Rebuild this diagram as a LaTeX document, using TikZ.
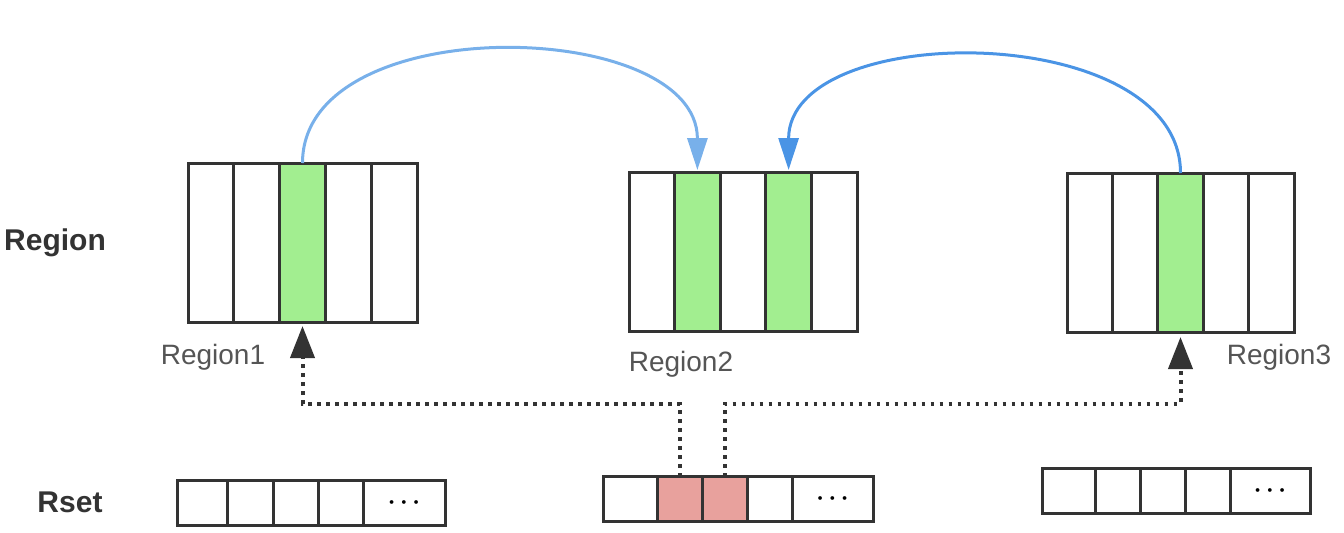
\documentclass[tikz,border=0pt]{standalone}
\usepackage{fontspec}
\setmainfont{Liberation Sans}
\usetikzlibrary{arrows.meta}

\definecolor{cellgreen}{HTML}{A2EE90}
\definecolor{cellpink}{HTML}{E8A19D}
\definecolor{arclight}{HTML}{78B0EA}
\definecolor{arcdark}{HTML}{4A94E5}
\definecolor{edge}{HTML}{333333}
\definecolor{labelgray}{HTML}{555555}

\tikzset{
  slot/.style={draw=edge,line width=1.5pt,inner sep=0pt,outer sep=0pt,
    minimum height=79.5pt},
  entry/.style={draw=edge,line width=1.5pt,inner sep=0pt,outer sep=0pt,
    minimum height=22.5pt,font=\boldmath\large},
  hop/.style={line width=1.5pt,shorten >=1pt,
    -{Triangle[length=16pt,width=10pt]}},
  ref/.style={draw=edge,line width=2pt,dash pattern=on 1.6pt off 2.9pt,
    -{Triangle[length=16pt,width=12pt]}},
  tag/.style={text=labelgray,font=\fontsize{14}{16}\selectfont},
  side/.style={text=edge,font=\fontsize{15}{18}\selectfont\bfseries}
}

\begin{document}
\begin{tikzpicture}[x=0.5pt,y=-0.5pt]
  \useasboundingbox (0,0) rectangle (1344,532);

  % regions
  \foreach \i/\c in {1/white,2/white,3/cellgreen,4/white,5/white}
    \node[slot,fill=\c,minimum width=22.9pt] (ra\i) at ({188+45.8*\i-22.9},242.5) {};
  \foreach \i/\c in {1/white,2/cellgreen,3/white,4/cellgreen,5/white}
    \node[slot,fill=\c,minimum width=22.8pt] (rb\i) at ({629+45.6*\i-22.8},251.5) {};
  \foreach \i/\c in {1/white,2/white,3/cellgreen,4/white,5/white}
    \node[slot,fill=\c,minimum width=22.7pt] (rc\i) at ({1067+45.4*\i-22.7},252.5) {};

  % rsets
  \foreach \i/\a/\b/\c in {1/177/227/white,2/227/273/white,3/273/318/white,4/318/363/white}
    \node[entry,fill=\c,minimum width={(\b-\a)*0.5pt}] (sa\i) at ({(\a+\b)/2},502.5) {};
  \node[entry,minimum width=41pt] (sa5) at (404,502.5) {$\cdots$};
  \foreach \i/\a/\b/\c in {1/603/657/white,2/657/702/cellpink,3/702/747/cellpink,4/747/792/white}
    \node[entry,fill=\c,minimum width={(\b-\a)*0.5pt}] (sb\i) at ({(\a+\b)/2},499) {};
  \node[entry,minimum width=40.5pt] (sb5) at (832.5,499) {$\cdots$};
  \foreach \i/\a/\b/\c in {1/1042/1095/white,2/1095/1140/white,3/1140/1185/white,4/1185/1230/white}
    \node[entry,fill=\c,minimum width={(\b-\a)*0.5pt}] (sc\i) at ({(\a+\b)/2},490.5) {};
  \node[entry,minimum width=40pt] (sc5) at (1270,490.5) {$\cdots$};

  % labels
  \node[side] (rowregion) at (55,243) {Region};
  \node[side] (rowrset) at (70,502) {Rset};
  \node[tag] (tagone) at (213,357) {Region1};
  \node[tag] (tagtwo) at (681,364) {Region2};
  \node[tag] (tagthree) at (1279,357) {Region3};

  % references
  \draw[hop,arclight] (ra3.north) to[out=90,in=90] (rb2.north);
  \draw[hop,arcdark] (rc3.north) to[out=90,in=90] (rb4.north);
  \draw[ref,shorten >=2pt] (sb2.north) -- ++(0,-73) -| (ra3.south);
  \draw[ref,shorten >=2.5pt] (sb3.north) -- ++(0,-73) -| (rc3.south);
\end{tikzpicture}
\end{document}
